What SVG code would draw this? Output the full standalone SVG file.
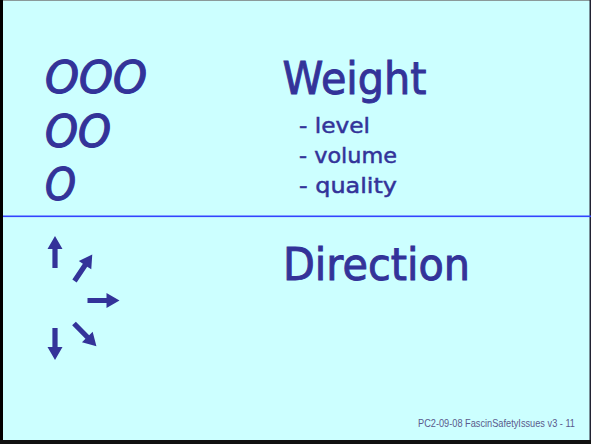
<svg xmlns="http://www.w3.org/2000/svg" xmlns:xlink="http://www.w3.org/1999/xlink" width="591" height="444" viewBox="0 0 591 444">
<style>
.t{font-family:"DejaVu Sans","Liberation Sans",sans-serif;fill:#333399;stroke:#333399}
.big{font-size:45px;stroke-width:1}
.o{font-size:44px;font-style:italic;stroke-width:1.2}
.sub{font-size:22px;stroke-width:0.5}
.foot{font-family:"Liberation Sans",Arial,sans-serif;font-size:11px;fill:#5a5a8c}
.ar{fill:#333399}
</style>
<defs>
<path id="arr" d="M0,-2.6 H19 V-7.5 L32,0 L19,7.5 V2.6 H0 Z"/>
</defs>
<rect x="0" y="0" width="591" height="444" fill="#ccffff"/>
<rect x="0" y="0" width="591" height="1" fill="#8a9a9a"/>
<rect x="0" y="0" width="3" height="444" fill="#000"/>
<rect x="589.5" y="0" width="1.5" height="444" fill="#223"/>
<rect x="0" y="440" width="591" height="4" fill="#111"/>
<rect x="3" y="215.5" width="588" height="1.6" fill="#3344ff"/>
<g id="weight-marks">
<text class="t o" x="45" y="93" textLength="102" lengthAdjust="spacingAndGlyphs">OOO</text>
<text class="t o" x="45" y="147" textLength="66" lengthAdjust="spacingAndGlyphs">OO</text>
<text class="t o" x="45" y="200" textLength="31" lengthAdjust="spacingAndGlyphs">O</text>
</g>
<g id="weight">
<text class="t big" x="282.5" y="94" textLength="144" lengthAdjust="spacingAndGlyphs">Weight</text>
<text class="t sub" x="299" y="133" textLength="71" lengthAdjust="spacingAndGlyphs">- level</text>
<text class="t sub" x="299" y="163" textLength="98" lengthAdjust="spacingAndGlyphs">- volume</text>
<text class="t sub" x="299" y="193" textLength="98" lengthAdjust="spacingAndGlyphs">- quality</text>
</g>
<g id="direction-arrows">
<use xlink:href="#arr" class="ar" transform="translate(55,268) rotate(-90)"/>
<use xlink:href="#arr" class="ar" transform="translate(74.5,281) rotate(-56.3)"/>
<use xlink:href="#arr" class="ar" transform="translate(87.5,300.5)"/>
<use xlink:href="#arr" class="ar" transform="translate(55,328) rotate(90)"/>
<use xlink:href="#arr" class="ar" transform="translate(74,323.5) rotate(45.5)"/>
</g>
<g id="direction">
<text class="t big" x="283" y="280" textLength="187" lengthAdjust="spacingAndGlyphs">Direction</text>
</g>
<g id="footer">
<text class="foot" x="575" y="427" text-anchor="end" textLength="157" lengthAdjust="spacingAndGlyphs">PC2-09-08 FascinSafetyIssues v3 - 11</text>
</g>
</svg>
